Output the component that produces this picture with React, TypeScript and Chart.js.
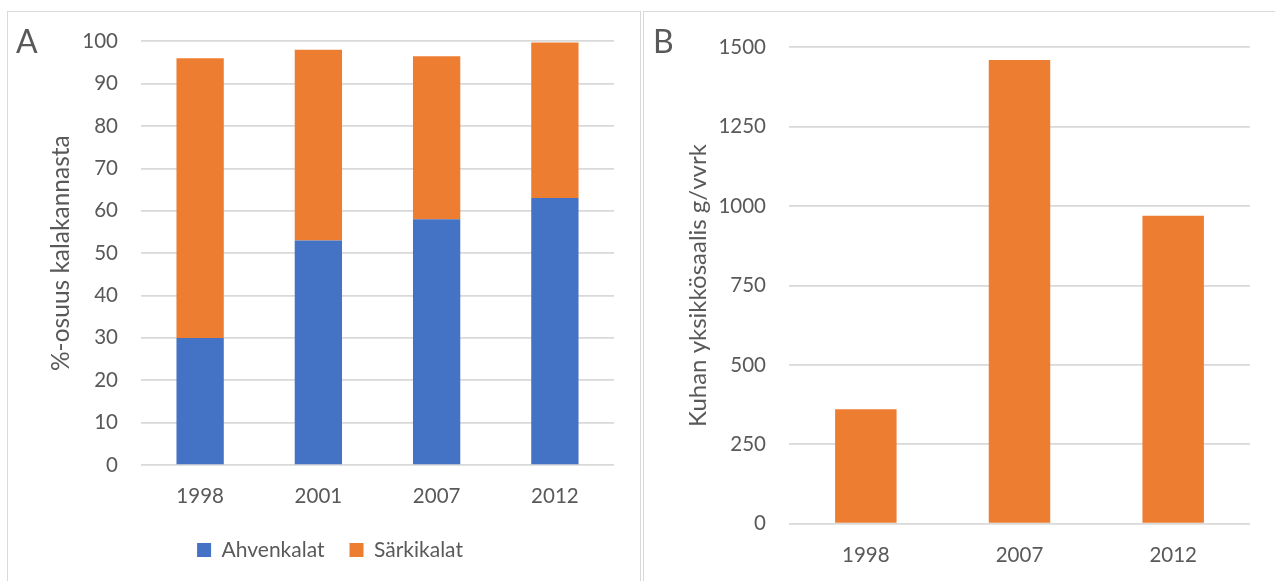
import React, { useEffect, useRef } from "react";
import { Chart, registerables } from "chart.js";

Chart.register(...registerables);

// ---- Data ----
const yearsA = ["1998", "2001", "2007", "2012"];
const ahvenkalat = [30, 53, 58, 63];
const sarkikalat = [66, 45, 38.5, 36.7];
const yearsB = ["1998", "2007", "2012"];
const kuhaSaalis = [360, 1460, 970];

const FONT = "Lato, 'Open Sans', sans-serif";
const TEXT = "#595959";
const GRID = "#d9d9d9";
const BLUE = "#4472c4";
const ORANGE = "#ed7d31";

const letterPlugin = (letter: string, x: number, y: number) => ({
  id: "letter" + letter,
  afterDraw(chart: any) {
    const ctx = chart.ctx;
    ctx.save();
    ctx.font = `32px ${FONT}`;
    ctx.fillStyle = TEXT;
    ctx.textBaseline = "alphabetic";
    ctx.textAlign = "left";
    ctx.fillText(letter, x, y);
    ctx.restore();
  },
});

function ChartA() {
  const ref = useRef<HTMLCanvasElement>(null);
  useEffect(() => {
    const chart = new Chart(ref.current!, {
      type: "bar",
      data: {
        labels: yearsA,
        datasets: [
          {
            label: "Ahvenkalat",
            data: ahvenkalat,
            backgroundColor: BLUE,
            categoryPercentage: 1,
            barPercentage: 0.4,
          },
          {
            label: "Särkikalat",
            data: sarkikalat,
            backgroundColor: ORANGE,
            categoryPercentage: 1,
            barPercentage: 0.4,
          },
        ],
      },
      options: {
        responsive: false,
        animation: false,
        layout: { padding: { left: 37, right: 27, top: 28.3, bottom: 11.5 } },
        plugins: {
          legend: {
            position: "bottom",
            labels: {
              boxWidth: 14,
              boxHeight: 14,
              padding: 25,
              color: TEXT,
              font: { family: FONT, size: 21 },
            },
          },
          tooltip: { enabled: false },
        },
        scales: {
          x: {
            stacked: true,
            grid: { display: false, drawTicks: false },
            border: { display: false },
            ticks: { color: TEXT, font: { family: FONT, size: 20.5 }, padding: 19.4 },
            afterFit: (s: any) => {
              s.height = 49.5;
            },
          },
          y: {
            stacked: true,
            min: 0,
            max: 100,
            ticks: {
              stepSize: 10,
              color: TEXT,
              font: { family: FONT, size: 20.5 },
              padding: 23,
              callback: (v: any) => String(v),
            },
            grid: { color: GRID, lineWidth: 1.75, drawTicks: false },
            border: { display: false },
            title: {
              display: true,
              text: "%-osuus kalakannasta",
              color: TEXT,
              font: { family: FONT, size: 24.5 },
              padding: 0,
            },
            afterFit: (s: any) => {
              s.width = 95;
              s.paddingTop = 0;
              s.paddingBottom = 0;
            },
          },
        },
      },
      plugins: [letterPlugin("A", 7, 39.7)],
    });
    return () => chart.destroy();
  }, []);
  return <canvas ref={ref} width={632} height={569} style={{ position: "absolute", left: 1, top: 1, width: 632, height: 569 }} />;
}

function ChartB() {
  const ref = useRef<HTMLCanvasElement>(null);
  useEffect(() => {
    const chart = new Chart(ref.current!, {
      type: "bar",
      data: {
        labels: yearsB,
        datasets: [
          {
            label: "Kuha",
            data: kuhaSaalis,
            backgroundColor: ORANGE,
            categoryPercentage: 1,
            barPercentage: 0.4,
          },
        ],
      },
      options: {
        responsive: false,
        animation: false,
        layout: { padding: { left: 39, right: 26, top: 34.3, bottom: 0 } },
        plugins: {
          legend: { display: false },
          tooltip: { enabled: false },
        },
        scales: {
          x: {
            grid: { display: false, drawTicks: false },
            border: { display: false },
            ticks: { color: TEXT, font: { family: FONT, size: 20.5 }, padding: 19 },
            afterFit: (s: any) => {
              s.height = 58.3;
            },
          },
          y: {
            min: 0,
            max: 1500,
            ticks: {
              stepSize: 250,
              color: TEXT,
              font: { family: FONT, size: 20.5 },
              padding: 23,
              callback: (v: any) => String(v),
            },
            grid: { color: GRID, lineWidth: 1.75, drawTicks: false },
            border: { display: false },
            title: {
              display: true,
              text: "Kuhan yksikkösaalis g/vvrk",
              color: TEXT,
              font: { family: FONT, size: 24 },
              padding: 0,
            },
            afterFit: (s: any) => {
              s.width = 105;
              s.paddingTop = 0;
              s.paddingBottom = 0;
            },
          },
        },
      },
      plugins: [letterPlugin("B", 8, 39.7)],
    });
    return () => chart.destroy();
  }, []);
  return <canvas ref={ref} width={631} height={569} style={{ position: "absolute", left: 1, top: 1, width: 631, height: 569 }} />;
}

export default function App() {
  return (
    <div
      style={{
        position: "fixed",
        left: 0,
        top: 0,
        width: 1275,
        height: 581,
        overflow: "hidden",
        background: "#ffffff",
      }}
    >
      <div
        style={{
          position: "absolute",
          left: 7,
          top: 11,
          width: 634,
          height: 600,
          boxSizing: "border-box",
          border: `1px solid ${GRID}`,
        }}
      >
        <ChartA />
      </div>
      <div
        style={{
          position: "absolute",
          left: 643,
          top: 11,
          width: 640,
          height: 600,
          boxSizing: "border-box",
          border: `1px solid ${GRID}`,
        }}
      >
        <ChartB />
      </div>
    </div>
  );
}
